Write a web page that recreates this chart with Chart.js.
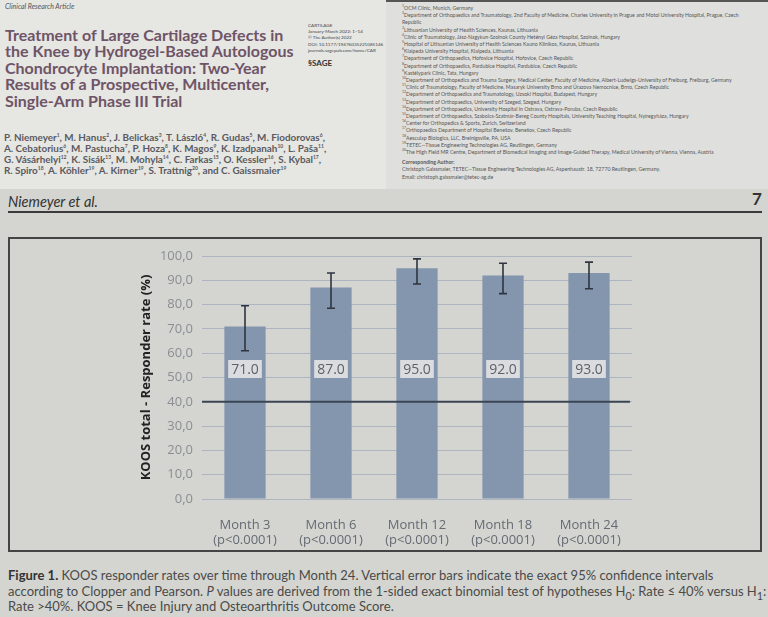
<!DOCTYPE html>
<html>
<head>
<meta charset="utf-8">
<script src="https://cdn.jsdelivr.net/npm/chart.js@4.4.1/dist/chart.umd.min.js"></script>
<style>
  html,body{margin:0;padding:0;}
  body{width:768px;height:617px;overflow:hidden;background:#d4d5d0;position:relative;font-family:Lato,"Noto Sans",sans-serif;}
  sup,sub{line-height:0;}
  #top{position:absolute;left:0;top:0;width:768px;height:189px;background:#e6e6e3;}
  #topL{position:absolute;left:0;top:0;width:384px;height:189px;}
  #topR{position:absolute;left:386px;top:0;width:382px;height:189px;background:#dfe0dd;border-top:2px solid #555;box-sizing:border-box;}
  .kicker{position:absolute;left:5px;top:2px;font-size:7px;font-style:italic;color:#555;}
  .title{position:absolute;left:5px;top:27px;width:300px;font-size:16px;line-height:16.4px;font-weight:bold;color:#6e5466;}
  .journal{position:absolute;left:308px;top:22px;font-size:4.6px;line-height:6.2px;color:#444;}
  .sage{position:absolute;left:308px;top:58px;font-size:8px;font-weight:bold;color:#333;}
  .authors{position:absolute;left:4px;top:132px;width:370px;font-size:9.9px;line-height:11px;font-weight:bold;color:#5a5a60;white-space:nowrap;}
  .authors sup{font-size:5px;}
  .affil{position:absolute;left:16px;top:3px;width:356px;font-size:5.2px;line-height:7.2px;color:#555;}
  .affil sup{font-size:3.5px;}
  .corr{font-weight:bold;margin-top:3px;}
  #runhead{position:absolute;left:8px;top:193px;font-size:14.5px;font-style:italic;color:#333;}
  #pageno{position:absolute;left:752px;top:188px;font-size:17px;font-weight:bold;color:#333;}
  #rule{position:absolute;left:8px;top:211px;width:754px;height:2px;background:#3a3a3a;}
  #box{position:absolute;left:8px;top:237px;width:750px;height:311px;border:2px solid #444;}
  #chart{position:absolute;left:0;top:0;}
  #caption{position:absolute;left:8px;top:568px;width:760px;font-size:13px;line-height:15.5px;color:#4a4a4a;white-space:nowrap;}
  #caption b{color:#333;}
</style>
</head>
<body>
<div id="top">
  <div id="topL">
    <div class="kicker">Clinical Research Article</div>
    <div class="title">Treatment of Large Cartilage Defects in the Knee by Hydrogel-Based Autologous Chondrocyte Implantation: Two-Year Results of a Prospective, Multicenter, Single-Arm Phase III Trial</div>
    <div class="journal">CARTILAGE<br>January-March 2022: 1–14<br>© The Author(s) 2022<br>DOI: 10.1177/19476035221085146<br>journals.sagepub.com/home/CAR</div>
    <div class="sage">§SAGE</div>
    <div class="authors">P. Niemeyer<sup>1</sup>, M. Hanus<sup>2</sup>, J. Belickas<sup>3</sup>, T. László<sup>4</sup>, R. Gudas<sup>5</sup>, M. Fiodorovas<sup>6</sup>,<br>A. Cebatorius<sup>6</sup>, M. Pastucha<sup>7</sup>, P. Hoza<sup>8</sup>, K. Magos<sup>9</sup>, K. Izadpanah<sup>10</sup>, L. Paša<sup>11</sup>,<br>G. Vásárhelyi<sup>12</sup>, K. Sisák<sup>13</sup>, M. Mohyla<sup>14</sup>, C. Farkas<sup>15</sup>, O. Kessler<sup>16</sup>, S. Kybal<sup>17</sup>,<br>R. Spiro<sup>18</sup>, A. Köhler<sup>19</sup>, A. Kirner<sup>19</sup>, S. Trattnig<sup>20</sup>, and C. Gaissmaier<sup>19</sup></div>
  </div>
  <div id="topR">
    <div class="affil">
      <div><sup>1</sup>OCM Clinic, Munich, Germany</div>
      <div><sup>2</sup>Department of Orthopaedics and Traumatology, 2nd Faculty of Medicine, Charles University in Prague and Motol University Hospital, Prague, Czech Republic</div>
      <div><sup>3</sup>Lithuanian University of Health Sciences, Kaunas, Lithuania</div>
      <div><sup>4</sup>Clinic of Traumatology, Jász-Nagykun-Szolnok County Hetényi Géza Hospital, Szolnok, Hungary</div>
      <div><sup>5</sup>Hospital of Lithuanian University of Health Sciences Kauno Klinikos, Kaunas, Lithuania</div>
      <div><sup>6</sup>Klaipeda University Hospital, Klaipeda, Lithuania</div>
      <div><sup>7</sup>Department of Orthopaedics, Hořovice Hospital, Hořovice, Czech Republic</div>
      <div><sup>8</sup>Department of Orthopaedics, Pardubice Hospital, Pardubice, Czech Republic</div>
      <div><sup>9</sup>Kastélypark Clinic, Tata, Hungary</div>
      <div><sup>10</sup>Department of Orthopedics and Trauma Surgery, Medical Center, Faculty of Medicine, Albert-Ludwigs-University of Freiburg, Freiburg, Germany</div>
      <div><sup>11</sup>Clinic of Traumatology, Faculty of Medicine, Masaryk University Brno and Úrazova Nemocnice, Brno, Czech Republic</div>
      <div><sup>12</sup>Department of Orthopaedics and Traumatology, Uzsoki Hospital, Budapest, Hungary</div>
      <div><sup>13</sup>Department of Orthopaedics, University of Szeged, Szeged, Hungary</div>
      <div><sup>14</sup>Department of Orthopaedics, University Hospital in Ostrava, Ostrava-Poruba, Czech Republic</div>
      <div><sup>15</sup>Department of Orthopaedics, Szabolcs-Szatmár-Bereg County Hospitals, University Teaching Hospital, Nyíregyháza, Hungary</div>
      <div><sup>16</sup>Center for Orthopedics &amp; Sports, Zurich, Switzerland</div>
      <div><sup>17</sup>Orthopaedics Department of Hospital Benešov, Benešov, Czech Republic</div>
      <div><sup>18</sup>Aesculap Biologics, LLC, Breinigsville, PA, USA</div>
      <div><sup>19</sup>TETEC—Tissue Engineering Technologies AG, Reutlingen, Germany</div>
      <div><sup>20</sup>The High Field MR Centre, Department of Biomedical Imaging and Image-Guided Therapy, Medical University of Vienna, Vienna, Austria</div>
      <div class="corr">Corresponding Author:</div>
      <div>Christoph Gaissmaier, TETEC—Tissue Engineering Technologies AG, Aspenhaustr. 18, 72770 Reutlingen, Germany.</div>
      <div>Email: christoph.gaissmaier@tetec-ag.de</div>
    </div>
  </div>
</div>

<div id="runhead">Niemeyer et al.</div>
<div id="pageno">7</div>
<div id="rule"></div>

<div id="box"><canvas id="chart" width="750" height="311"></canvas></div>

<div id="caption"><b>Figure 1.</b> KOOS responder rates over time through Month 24. Vertical error bars indicate the exact 95% confidence intervals<br>according to Clopper and Pearson. <i>P</i> values are derived from the 1-sided exact binomial test of hypotheses H<sub>0</sub>: Rate ≤ 40% versus H<sub>1</sub>:<br>Rate &gt;40%. KOOS = Knee Injury and Osteoarthritis Outcome Score.</div>

<script>
// ====== DATA ======
const CATEGORIES = ['Month 3','Month 6','Month 12','Month 18','Month 24'];
const P_LABELS = ['(p<0.0001)','(p<0.0001)','(p<0.0001)','(p<0.0001)','(p<0.0001)'];
const RESPONDER_RATE = [71.0, 87.0, 95.0, 92.0, 93.0];
const CI_LOWER = [61.0, 78.5, 88.5, 84.5, 86.5];
const CI_UPPER = [79.5, 93.0, 98.8, 97.0, 97.5];
const THRESHOLD = 40;
const LABEL_AT = 53.5;   // height where the value boxes sit
const Y_TITLE = 'KOOS total - Responder rate (%)';

const FONT = '"Open Sans","Noto Sans",sans-serif';

// ====== PLUGINS ======
const thresholdLine = {
  id:'thresholdLine',
  afterDatasetsDraw(chart){
    const {ctx, chartArea:a, scales:{y}} = chart;
    const py = y.getPixelForValue(THRESHOLD);
    ctx.save();
    ctx.strokeStyle='#3a4453'; ctx.lineWidth=2;
    ctx.beginPath(); ctx.moveTo(a.left, py); ctx.lineTo(a.right-2, py); ctx.stroke();
    ctx.restore();
  }
};
const errorBars = {
  id:'errorBars',
  afterDatasetsDraw(chart){
    const {ctx, scales:{y}} = chart;
    const meta = chart.getDatasetMeta(0);
    ctx.save();
    ctx.strokeStyle='#2f3540'; ctx.lineWidth=1.6;
    meta.data.forEach((bar,i)=>{
      const x=bar.x, t=y.getPixelForValue(CI_UPPER[i]), b=y.getPixelForValue(CI_LOWER[i]);
      ctx.beginPath();
      ctx.moveTo(x,t); ctx.lineTo(x,b);
      ctx.moveTo(x-4,t); ctx.lineTo(x+4,t);
      ctx.moveTo(x-4,b); ctx.lineTo(x+4,b);
      ctx.stroke();
    });
    ctx.restore();
  }
};
const valueBoxes = {
  id:'valueBoxes',
  afterDatasetsDraw(chart){
    const {ctx, scales:{y}} = chart;
    const meta = chart.getDatasetMeta(0);
    const py = y.getPixelForValue(LABEL_AT);
    ctx.save();
    ctx.font = '14px '+FONT;
    ctx.textAlign='center'; ctx.textBaseline='middle';
    meta.data.forEach((bar,i)=>{
      const txt = RESPONDER_RATE[i].toFixed(1);
      const w = ctx.measureText(txt).width + 6;
      ctx.fillStyle='#dadcdf';
      ctx.fillRect(bar.x-w/2, py-9, w, 18);
      ctx.fillStyle='#5d6168';
      ctx.fillText(txt, bar.x, py+1);
    });
    ctx.restore();
  }
};

// ====== CHART ======
new Chart(document.getElementById('chart'), {
  type:'bar',
  data:{
    labels: CATEGORIES.map((c,i)=>[c, P_LABELS[i]]),
    datasets:[{
      data: RESPONDER_RATE,
      backgroundColor:'#8496ae',
      borderWidth:0,
      barPercentage:0.48,
      categoryPercentage:1.0
    }]
  },
  options:{
    responsive:false,
    animation:false,
    devicePixelRatio:1,
    layout:{padding:{left:128, right:128, top:17, bottom:0}},
    plugins:{legend:{display:false}, tooltip:{enabled:false}},
    scales:{
      x:{
        grid:{display:false},
        border:{display:false},
        ticks:{color:'#656a74', font:{family:FONT, size:13}, padding:10, maxRotation:0},
        afterFit(s){ s.height = 51; }
      },
      y:{
        min:0, max:100,
        grid:{color:'rgba(140,155,178,0.55)', drawTicks:false, lineWidth:1},
        border:{display:false},
        ticks:{stepSize:10, color:'#8a8d94', font:{family:FONT, size:13}, padding:9,
          callback:v=>v.toFixed(1).replace('.',',')},
        title:{display:true, text:Y_TITLE, color:'#222', font:{family:FONT, size:13, weight:'bold'}, padding:{top:0,bottom:4}},
        afterFit(s){ s.width = 64; }
      }
    }
  },
  plugins:[thresholdLine, errorBars, valueBoxes]
});
</script>
</body>
</html>
